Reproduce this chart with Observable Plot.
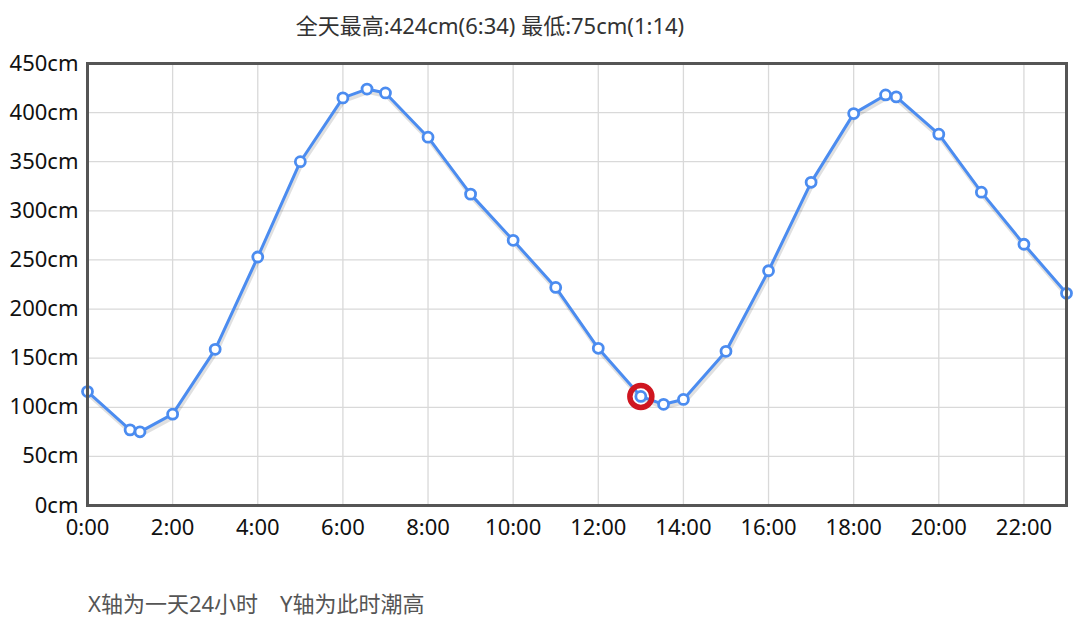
<!DOCTYPE html>
<html><head><meta charset="utf-8">
<script src="https://cdn.jsdelivr.net/npm/d3@7"></script>
<script src="https://cdn.jsdelivr.net/npm/@observablehq/plot@0.6"></script>
<style>
body{margin:0;background:#fff;font-family:"Noto Sans","Noto Sans CJK SC",sans-serif;}
#title{height:48px;line-height:50px;text-align:center;font-size:22px;color:#333;position:relative;left:-50px;}
#cap{margin-top:28px;padding-left:88px;font-size:22px;color:#555;}
</style></head><body>
<div id="title">全天最高:424cm(6:34) 最低:75cm(1:14)</div>
<div id="chart"></div>
<div id="cap">X轴为一天24小时　Y轴为此时潮高</div>
<script>
const times = ["0:00","1:00","1:14","2:00","3:00","4:00","5:00","6:00","6:34","7:00","8:00","9:00","10:00","11:00","12:00","13:00","13:32","14:00","15:00","16:00","17:00","18:00","18:45","19:00","20:00","21:00","22:00","23:00"];
const heights = [116,77,75,93,159,253,350,415,424,420,375,317,270,222,160,111,103,108,157,239,329,399,418,416,378,319,266,216];
const highlightTime = "13:00";
const yTicks = [0,50,100,150,200,250,300,350,400,450];
const xTicks = [0,2,4,6,8,10,12,14,16,18,20,22];

const toH = s => { const [h,m] = s.split(":").map(Number); return h + m/60; };
const data = times.map((t,i) => ({t, x: toH(t), y: heights[i]}));
const hl = data.filter(d => d.t === highlightTime);

const chart = Plot.plot({
  width: 1080, height: 510,
  marginTop: 15, marginBottom: 53, marginLeft: 87, marginRight: 14,
  style: {fontSize: "22px", fontFamily: '"Noto Sans","Noto Sans CJK SC",sans-serif', color: "#111"},
  x: {domain: [0,23], ticks: xTicks, tickFormat: d => d + ":00", tickSize: 0, tickPadding: 14, label: null},
  y: {domain: [0,450], ticks: yTicks, tickFormat: d => d + "cm", tickSize: 0, tickPadding: 9, label: null},
  marks: [
    Plot.gridY(yTicks, {stroke: "#d9d9d9", strokeOpacity: 1, strokeWidth: 1.3}),
    Plot.gridX(xTicks, {stroke: "#d9d9d9", strokeOpacity: 1, strokeWidth: 1.3}),
    Plot.line(data, {x: "x", y: "y", stroke: "#000", strokeOpacity: 0.12, strokeWidth: 4, dy: 3, dx: 1}),
    Plot.line(data, {x: "x", y: "y", stroke: "#4b8cf0", strokeWidth: 3}),
    Plot.dot(hl, {x: "x", y: "y", r: 11, fill: "none", stroke: "#cf1620", strokeWidth: 5.5}),
    Plot.dot(data, {x: "x", y: "y", r: 5, fill: "#fff", stroke: "#4b8cf0", strokeWidth: 2.8}),
    Plot.frame({stroke: "#555", strokeWidth: 3})
  ]
});
document.getElementById("chart").append(chart);
</script>
</body></html>
